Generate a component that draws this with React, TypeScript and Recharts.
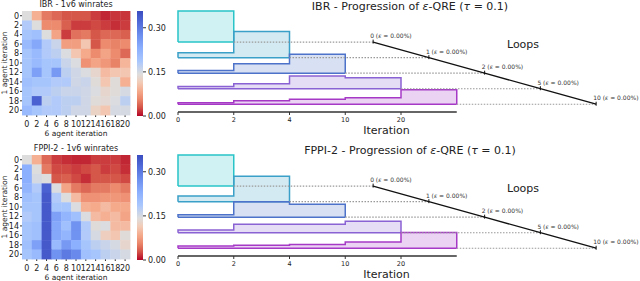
import {
  Area,
  Bar,
  BarChart,
  ComposedChart,
  Line,
  ReferenceLine,
  Scatter,
  ScatterChart,
  XAxis,
  YAxis,
} from "recharts";

// agent iterations on both heatmap axes
const iterations = [0, 2, 4, 6, 8, 10, 12, 14, 16, 18, 20];

// 1v6 winrates, rows = 1 agent iteration, cols = 6 agent iteration
const ibrWinrates = [
  [0.143, 0.09, 0.05, 0.04, 0.03, 0.03, 0.03, 0.02, 0.012, 0.018, 0.018],
  [0.18, 0.143, 0.06, 0.06, 0.035, 0.02, 0.02, 0.025, 0.02, 0.015, 0.02],
  [0.19, 0.2, 0.143, 0.08, 0.02, 0.045, 0.05, 0.03, 0.04, 0.04, 0.035],
  [0.21, 0.24, 0.18, 0.16, 0.075, 0.075, 0.11, 0.03, 0.06, 0.055, 0.06],
  [0.19, 0.21, 0.18, 0.17, 0.145, 0.11, 0.085, 0.06, 0.08, 0.06, 0.04],
  [0.19, 0.21, 0.19, 0.19, 0.16, 0.145, 0.065, 0.08, 0.07, 0.055, 0.095],
  [0.19, 0.25, 0.19, 0.26, 0.17, 0.155, 0.145, 0.13, 0.1, 0.11, 0.11],
  [0.2, 0.19, 0.19, 0.18, 0.18, 0.155, 0.16, 0.14, 0.11, 0.14, 0.09],
  [0.19, 0.18, 0.18, 0.17, 0.16, 0.16, 0.155, 0.145, 0.13, 0.14, 0.15],
  [0.19, 0.33, 0.17, 0.18, 0.17, 0.17, 0.155, 0.14, 0.135, 0.145, 0.17],
  [0.21, 0.19, 0.18, 0.18, 0.17, 0.155, 0.155, 0.125, 0.11, 0.15, 0.15],
];

const fppiWinrates = [
  [0.143, 0.09, 0.04, 0.02, 0.015, 0.012, 0.012, 0.02, 0.02, 0.02, 0.012],
  [0.23, 0.143, 0.05, 0.025, 0.025, 0.02, 0.025, 0.03, 0.02, 0.025, 0.015],
  [0.23, 0.15, 0.143, 0.03, 0.035, 0.025, 0.015, 0.03, 0.03, 0.03, 0.025],
  [0.22, 0.18, 0.33, 0.145, 0.08, 0.05, 0.04, 0.05, 0.05, 0.06, 0.05],
  [0.2, 0.19, 0.34, 0.18, 0.143, 0.1, 0.065, 0.065, 0.07, 0.07, 0.065],
  [0.19, 0.19, 0.34, 0.19, 0.19, 0.145, 0.09, 0.085, 0.1, 0.085, 0.085],
  [0.18, 0.19, 0.34, 0.25, 0.22, 0.2, 0.145, 0.1, 0.09, 0.1, 0.08],
  [0.19, 0.2, 0.34, 0.24, 0.2, 0.27, 0.18, 0.14, 0.145, 0.1, 0.1],
  [0.19, 0.2, 0.34, 0.24, 0.22, 0.27, 0.18, 0.15, 0.12, 0.11, 0.14],
  [0.2, 0.25, 0.34, 0.21, 0.26, 0.23, 0.19, 0.17, 0.16, 0.15, 0.13],
  [0.19, 0.21, 0.34, 0.27, 0.3, 0.28, 0.2, 0.19, 0.17, 0.16, 0.15],
];

const cbarTicks = [0, 0.15, 0.3];
const VCENTER = 1 / 7;
const VMAX = 0.357;

// progression: meta-strategy mass per iteration block, one row per loop
const blockLabels = ["0", "2", "4", "10", "20"];
const ibrMixtures = [
  [1],
  [0.16, 0.84],
  [0.09, 0.3, 0.61],
  [0.075, 0.16, 0.41, 0.355],
  [0.05, 0.11, 0.16, 0.21, 0.47],
];
const fppiMixtures = [
  [1],
  [0.18, 0.82],
  [0.08, 0.5, 0.42],
  [0.09, 0.27, 0.27, 0.37],
  [0.07, 0.1, 0.12, 0.2, 0.51],
];
const loops = [0, 1, 2, 5, 10];
const loopEps = ["0.00%", "0.00%", "0.00%", "0.00%", "0.00%"];
const loopX = [3.5, 4.5, 5.5, 6.5, 7.5];

const rowColors = ["#29c4c8", "#3aa0c8", "#4d72c9", "#8a62d3", "#a63ac7"];

// coolwarm, red end first
const coolwarm = [
  [180, 4, 38],
  [212, 84, 71],
  [235, 135, 107],
  [245, 171, 141],
  [242, 203, 183],
  [221, 221, 221],
  [170, 199, 253],
  [141, 176, 254],
  [111, 145, 240],
  [83, 110, 219],
  [59, 76, 192],
];

function colorAt(u: number) {
  const t = Math.max(0, Math.min(1, u)) * 10;
  const i = Math.min(9, Math.floor(t));
  const f = t - i;
  const a = coolwarm[i];
  const b = coolwarm[i + 1];
  const c = a.map((v, j) => Math.round(v + (b[j] - v) * f));
  return `rgb(${c[0]},${c[1]},${c[2]})`;
}

function norm(v: number) {
  return v <= VCENTER ? (0.5 * v) / VCENTER : 0.5 + (0.5 * (v - VCENTER)) / (VMAX - VCENTER);
}

function unnorm(u: number) {
  return u <= 0.5 ? (u / 0.5) * VCENTER : VCENTER + ((u - 0.5) / 0.5) * (VMAX - VCENTER);
}

function Caption(props: any) {
  const { x, y, size, rotate, children } = props;
  return (
    <div
      style={{
        position: "absolute",
        left: x,
        top: y,
        fontSize: size,
        lineHeight: 1,
        whiteSpace: "nowrap",
        color: "#222",
        transform: `translate(-50%,-50%)${rotate ? " rotate(-90deg)" : ""}`,
      }}
    >
      {children}
    </div>
  );
}

const CELL_W = 108 / 11;
const CELL_H = 104 / 11;

function Heatmap(props: any) {
  const { values, top, id } = props;
  const cells = values.flatMap((row: number[], y: number) =>
    row.map((v: number, x: number) => ({ x, y, v }))
  );
  const idx = iterations.map((_, i) => i);
  const stops = coolwarm.map((_, i) => i / 10);

  return (
    <>
      <div style={{ position: "absolute", left: 0, top }}>
        <ScatterChart width={132} height={130} margin={{ top: 11, right: 2, bottom: 0, left: 8 }}>
          <XAxis
            type="number"
            dataKey="x"
            domain={[-0.5, 10.5]}
            ticks={idx}
            interval={0}
            tickFormatter={(i) => String(iterations[i])}
            axisLine={false}
            tickSize={2}
            tickMargin={4}
            tickLine={{ stroke: "#333" }}
            tick={{ fontSize: 8, fill: "#222" }}
            height={15}
          />
          <YAxis
            type="number"
            dataKey="y"
            domain={[-0.5, 10.5]}
            reversed
            ticks={idx}
            interval={0}
            tickFormatter={(i) => String(iterations[i])}
            axisLine={false}
            tickSize={2}
            tickMargin={1}
            tickLine={{ stroke: "#333" }}
            tick={{ fontSize: 8, fill: "#222" }}
            width={14}
          />
          <Scatter
            data={cells}
            isAnimationActive={false}
            shape={(p: any) => (
              <rect
                x={p.cx - CELL_W / 2}
                y={p.cy - CELL_H / 2}
                width={CELL_W + 0.4}
                height={CELL_H + 0.4}
                fill={colorAt(norm(p.payload.v))}
              />
            )}
          />
        </ScatterChart>
      </div>
      <div style={{ position: "absolute", left: 132, top }}>
        <BarChart
          width={42}
          height={130}
          data={[{ name: "cbar", v: VMAX }]}
          margin={{ top: 11, right: 0, bottom: 14, left: 5 }}
          barCategoryGap={0}
        >
          <defs>
            <linearGradient id={id} x1="0" y1="1" x2="0" y2="0">
              {stops.map((u) => (
                <stop key={u} offset={unnorm(u) / VMAX} stopColor={colorAt(u)} />
              ))}
            </linearGradient>
          </defs>
          <XAxis dataKey="name" hide />
          <YAxis
            orientation="right"
            type="number"
            domain={[0, VMAX]}
            ticks={cbarTicks}
            tickFormatter={(v) => v.toFixed(2)}
            axisLine={false}
            tickSize={3}
            tickMargin={2}
            tickLine={{ stroke: "#333" }}
            tick={{ fontSize: 8, fill: "#222" }}
            width={31}
          />
          <Bar dataKey="v" fill={`url(#${id})`} isAnimationActive={false} />
        </BarChart>
      </div>
    </>
  );
}

function buildRidge(mix: number[][]) {
  const rows: any[] = [];
  const first: any = { x: 0 };
  const second: any = { x: 0 };
  mix.forEach((m, k) => {
    first[`r${k}`] = [-k, -k];
    second[`r${k}`] = [-k, -k + 2 * m[0]];
  });
  rows.push(first, second);
  for (let i = 1; i <= mix.length; i++) {
    const r: any = { x: i };
    mix.forEach((m, k) => {
      if (i < m.length) r[`r${k}`] = [-k, -k + 2 * m[i]];
      else if (i === m.length) r[`r${k}`] = [-k, -k];
    });
    rows.push(r);
  }
  loops.forEach((_, k) => rows.push({ x: loopX[k], loop: -k, li: k }));
  return rows;
}

function LoopTick(p: any) {
  const { cx, cy, payload } = p;
  if (cx == null || cy == null || !payload || payload.li == null) return null;
  const k = payload.li;
  return (
    <g key={`lt-${k}`}>
      <line x1={cx} y1={cy - 2.5} x2={cx} y2={cy + 1.5} stroke="#111" strokeWidth={1} />
      <text x={cx - 3} y={cy - 4} fontSize={6} fill="#333">
        {loops[k]} (<tspan fontStyle="italic">ε</tspan> = {loopEps[k]})
      </text>
    </g>
  );
}

function Progression(props: any) {
  const { mixtures, top } = props;
  const table = buildRidge(mixtures);
  return (
    <div style={{ position: "absolute", left: 170, top }}>
      <ComposedChart width={470} height={140} data={table} margin={{ top: 9.5, right: 16, bottom: 16, left: 8 }}>
        <XAxis
          type="number"
          dataKey="x"
          domain={[0, 8]}
          ticks={[0, 1, 2, 3, 4]}
          interval={0}
          tickFormatter={(i) => blockLabels[i]}
          axisLine={false}
          tickSize={3}
          tickMargin={2}
          tickLine={{ stroke: "#333" }}
          tick={{ fontSize: 6.5, fill: "#222" }}
          height={12}
        />
        <YAxis type="number" domain={[-4.5, 2.1]} hide />
        {mixtures.map((_: number[], k: number) => (
          <ReferenceLine
            key={`dot-${k}`}
            segment={[
              { x: k + 1, y: -k },
              { x: loopX[k], y: -k },
            ]}
            stroke="#999"
            strokeWidth={1.1}
            strokeDasharray="1.5 1.5"
          />
        ))}
        {mixtures.map((_: number[], k: number) => (
          <Area
            key={`r${k}`}
            dataKey={`r${k}`}
            type="stepAfter"
            stroke={rowColors[k]}
            strokeWidth={1.5}
            fill={rowColors[k]}
            fillOpacity={0.22}
            dot={false}
            activeDot={false}
            isAnimationActive={false}
          />
        ))}
        <ReferenceLine
          segment={[
            { x: 0, y: -4.5 },
            { x: 5, y: -4.5 },
          ]}
          stroke="#333"
          strokeWidth={1.5}
        />
        <Line
          dataKey="loop"
          stroke="#111"
          strokeWidth={1.3}
          connectNulls
          dot={LoopTick}
          activeDot={false}
          isAnimationActive={false}
        />
      </ComposedChart>
    </div>
  );
}

function Panel(props: any) {
  const { name, winrates, mixtures, top, id } = props;
  return (
    <>
      <Heatmap values={winrates} top={top} id={id} />
      <Caption x={76} y={top + 5} size={8}>
        {name} - 1v6 winrates
      </Caption>
      <Caption x={76} y={top + 133.5} size={7.5}>
        6 agent iteration
      </Caption>
      <Caption x={5} y={top + 63} size={7.5} rotate>
        1 agent iteration
      </Caption>
      <Progression mixtures={mixtures} top={top} />
      <Caption x={410} y={top + 5.5} size={11}>
        {name} - Progression of <i>ε</i>-QRE (<i>τ</i> = 0.1)
      </Caption>
      <Caption x={523} y={top + 44} size={11}>
        Loops
      </Caption>
      <Caption x={386.5} y={top + 129.5} size={11}>
        Iteration
      </Caption>
    </>
  );
}

export default function App() {
  return (
    <div
      style={{
        position: "absolute",
        left: 0,
        top: 0,
        width: 640,
        height: 281,
        background: "#fff",
        overflow: "hidden",
        fontFamily: '"DejaVu Sans", sans-serif',
      }}
    >
      <Panel name="IBR" winrates={ibrWinrates} mixtures={ibrMixtures} top={0} id="cbar-ibr" />
      <Panel name="FPPI-2" winrates={fppiWinrates} mixtures={fppiMixtures} top={144} id="cbar-fppi" />
    </div>
  );
}
